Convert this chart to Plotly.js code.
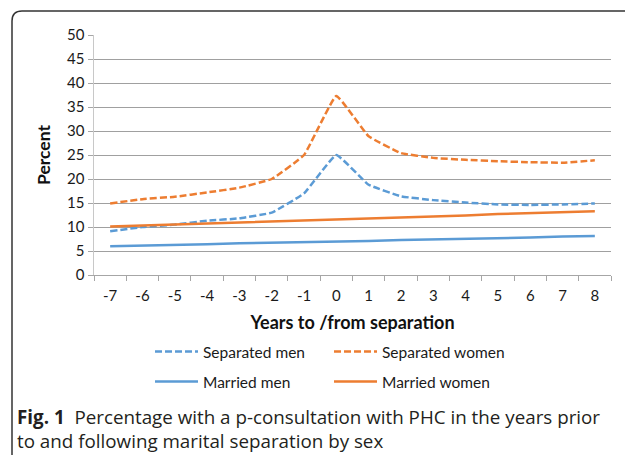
<!DOCTYPE html>
<html>
<head>
<meta charset="utf-8">
<script src="https://cdn.plot.ly/plotly-3.0.1.min.js"></script>
<style>html,body{margin:0;padding:0;background:#fff;}#chart{width:625px;height:457px;}</style>
</head>
<body>
<div id="chart"></div>
<script>
const years = ["-7","-6","-5","-4","-3","-2","-1","0","1","2","3","4","5","6","7","8"];
const separatedMen   = [9.1, 10.0, 10.5, 11.3, 11.8, 13.0, 17.0, 25.0, 18.8, 16.4, 15.6, 15.1, 14.7, 14.6, 14.7, 14.9];
const separatedWomen = [14.9, 15.8, 16.3, 17.2, 18.2, 20.0, 25.0, 37.3, 28.9, 25.4, 24.4, 24.0, 23.7, 23.5, 23.4, 23.9];
const marriedMen     = [6.0, 6.1, 6.3, 6.4, 6.6, 6.7, 6.8, 7.0, 7.1, 7.3, 7.4, 7.5, 7.7, 7.8, 8.0, 8.1];
const marriedWomen   = [10.1, 10.3, 10.5, 10.7, 10.9, 11.2, 11.4, 11.6, 11.8, 12.0, 12.2, 12.4, 12.7, 12.9, 13.1, 13.3];
const seriesNames = ["Separated men", "Separated women", "Married men", "Married women"];
const yTicks = [0,5,10,15,20,25,30,35,40,45,50];

const BLUE = "#5b9bd5", ORANGE = "#ed7d31";
const W = 625, H = 457, L = 94, R = 14, T = 35, B = 182;
const pw = W - L - R, ph = H - T - B;
const px = x => (x - L) / pw;
const py = y => (H - B - y) / ph;

function tr(y, name, color, dashed, legend) {
  return {
    x: years, y: y, name: name, type: "scatter", mode: "lines",
    line: {color: color, width: 2.5, dash: dashed ? "7px,3px" : "solid", shape: dashed ? "spline" : "linear", smoothing: 0.3},
    legend: legend, hoverinfo: "skip"
  };
}

const data = [
  tr(separatedMen, seriesNames[0], BLUE, true, "legend"),
  tr(separatedWomen, seriesNames[1], ORANGE, true, "legend2"),
  tr(marriedMen, seriesNames[2], BLUE, false, "legend3"),
  tr(marriedWomen, seriesNames[3], ORANGE, false, "legend4")
];

function leg(xp, yp) {
  return {
    orientation: "v", xanchor: "left", yanchor: "middle", xref: "paper", yref: "paper",
    x: px(xp), y: py(yp), itemwidth: 43, borderwidth: 0,
    font: {family: "Lato, sans-serif", size: 15.5, color: "#1a1a1a"}, bgcolor: "rgba(0,0,0,0)"
  };
}

const layout = {
  width: W, height: H,
  margin: {l: L, r: R, t: T, b: B, pad: 0},
  paper_bgcolor: "#fff", plot_bgcolor: "#fff",
  font: {family: "Lato, sans-serif", size: 13, color: "#222"},
  xaxis: {
    type: "category", range: [-0.5, 15.5], tickson: "boundaries",
    ticks: "outside", ticklen: 5, tickcolor: "#a6a6a6", tickwidth: 1, ticklabelstandoff: 7,
    showline: true, linecolor: "#a6a6a6", linewidth: 1, showgrid: false, zeroline: false,
    tickfont: {family: "Lato, sans-serif", size: 15, color: "#1a1a1a"},
    title: {text: "<b>Years to /from separation</b>", font: {family: "Lato, sans-serif", size: 18, color: "#111"}, standoff: 13}
  },
  yaxis: {
    range: [0, 50], tickvals: yTicks, ticks: "outside", ticklen: 5, tickcolor: "#a6a6a6",
    showline: true, linecolor: "#c8c8c8", linewidth: 1.5, showgrid: true, gridcolor: "#a0a0a0", gridwidth: 1, zeroline: false,
    tickfont: {family: "Lato, sans-serif", size: 15, color: "#1a1a1a"},
    title: {text: "<b>Percent</b>", font: {family: "Lato, sans-serif", size: 17.5, color: "#111"}, standoff: 12}
  },
  legend: leg(150, 352),
  legend2: leg(329, 352),
  legend3: leg(150, 382),
  legend4: leg(329, 382),
  showlegend: true,
  shapes: [{
    type: "path", xref: "paper", yref: "paper",
    path: `M ${px(12)} ${py(455)} L ${px(12)} ${py(21)} Q ${px(12)} ${py(11)} ${px(22)} ${py(11)} L ${px(626)} ${py(11)}`,
    line: {color: "#333", width: 1.5}
  }],
  annotations: [{
    xref: "paper", yref: "paper", x: px(15), y: py(402), xanchor: "left", yanchor: "top", align: "left",
    showarrow: false,
    text: "<b>Fig. 1</b>  Percentage with a p-consultation with PHC in the years prior<br>to and following marital separation by sex",
    font: {family: "Open Sans, sans-serif", size: 18.8, color: "#231f20"}
  }]
};

Plotly.newPlot("chart", data, layout, {staticPlot: true, displayModeBar: false});
</script>
</body>
</html>
